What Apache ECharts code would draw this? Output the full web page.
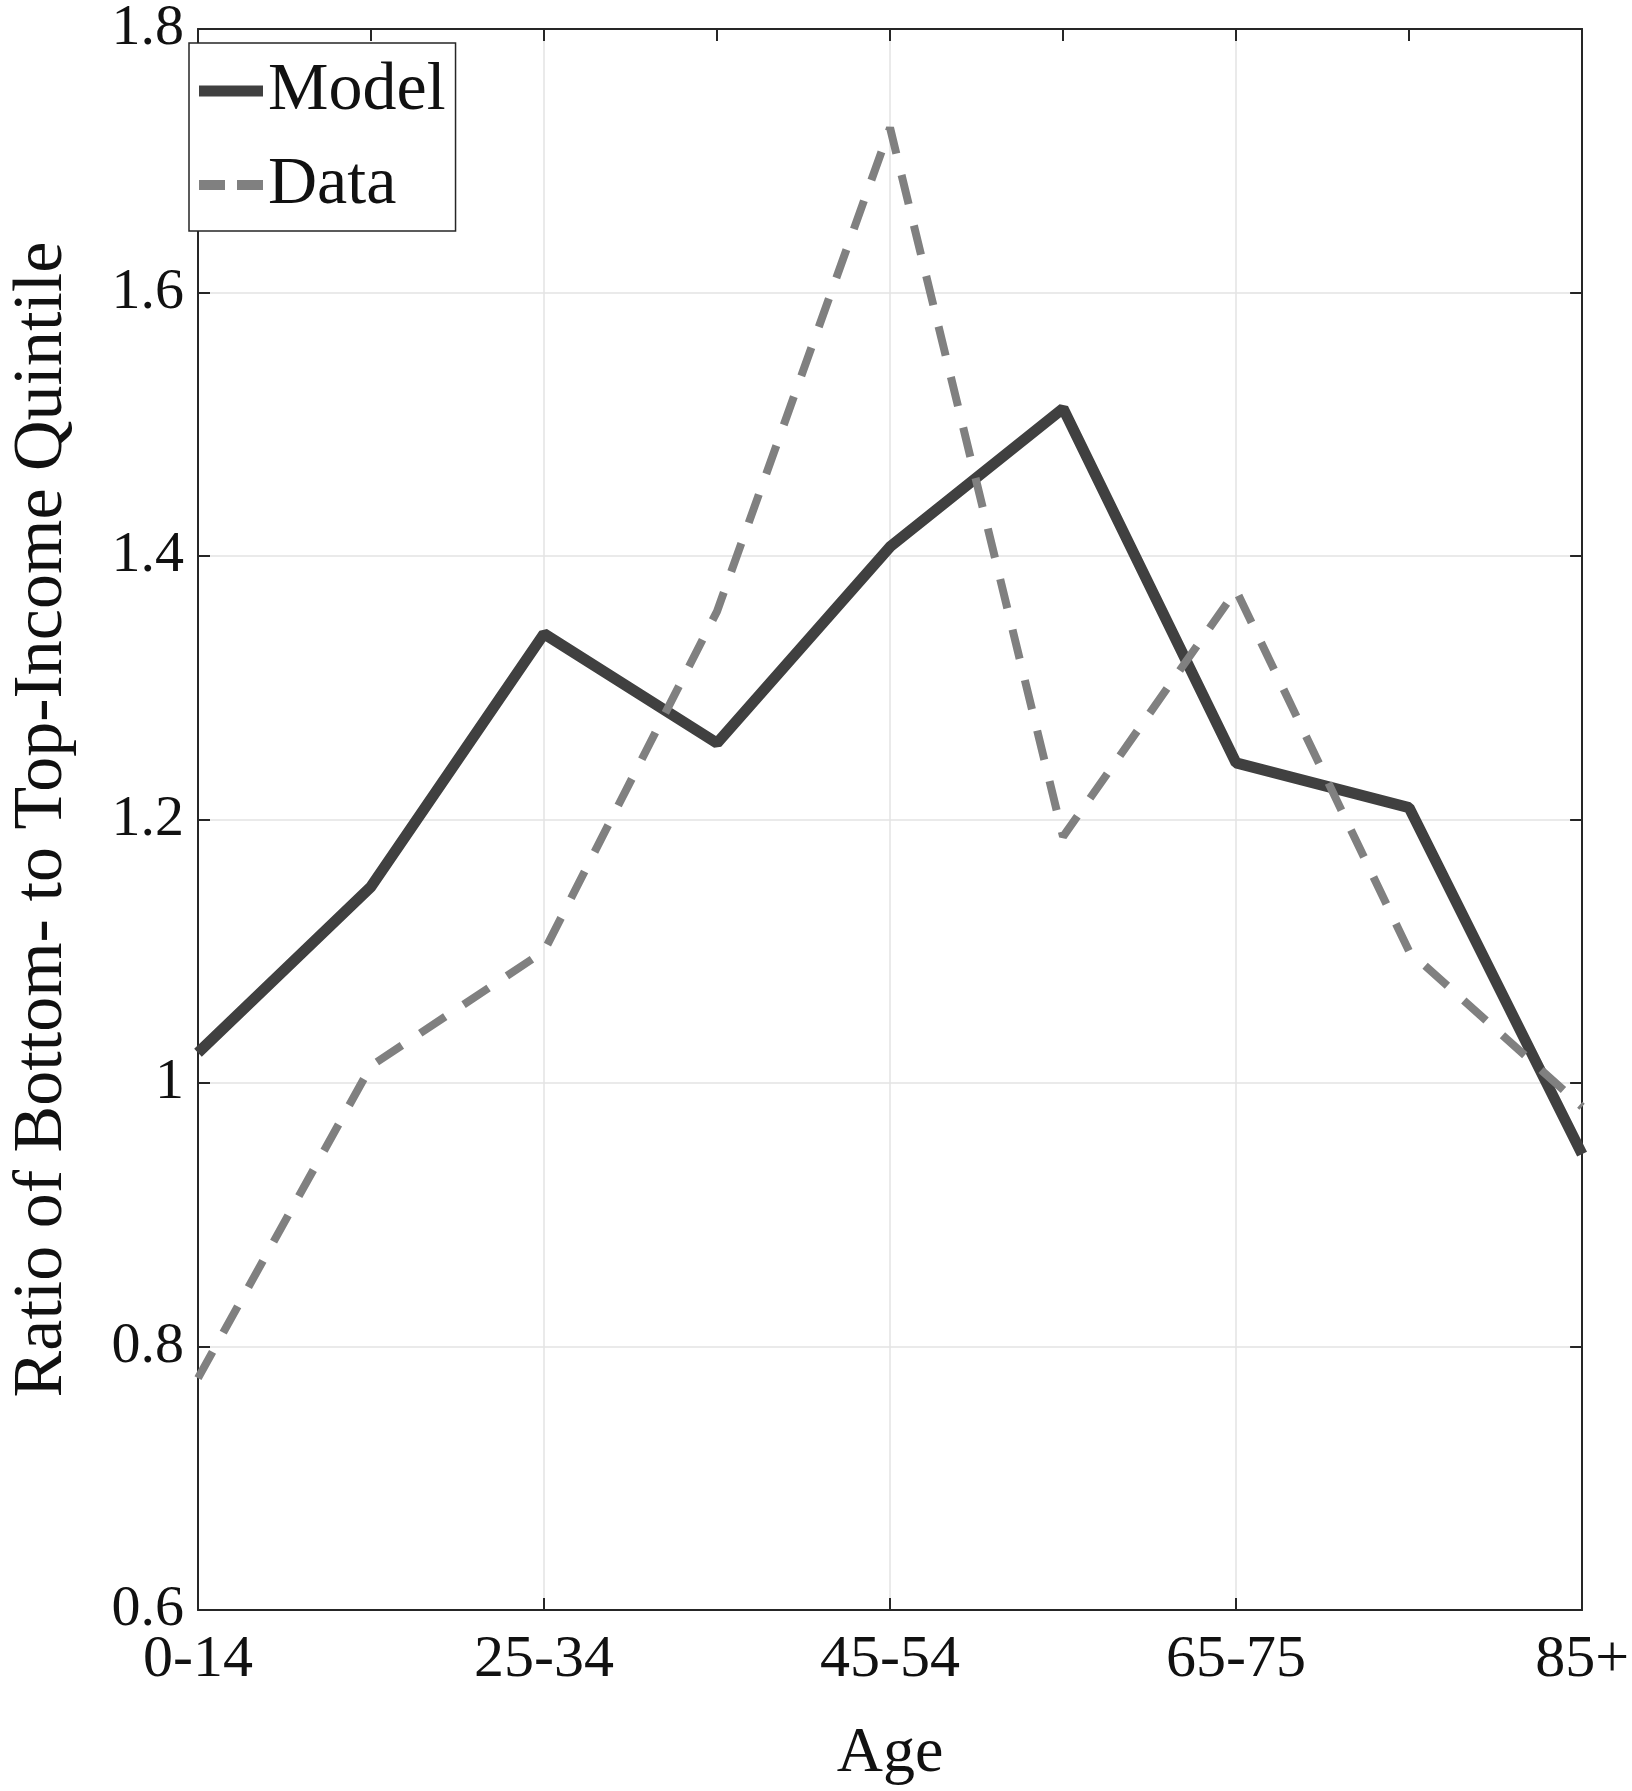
<!DOCTYPE html><html><head><meta charset="utf-8"><script src="https://cdn.jsdelivr.net/npm/echarts@6/dist/echarts.min.js"></script></head><body style="margin:0;background:#fff"><div id="c" style="width:1632px;height:1791px"></div><script>
const categories=['0-14','15-24','25-34','35-44','45-54','55-64','65-75','75-84','85+'];
const modelValues=[1.023,1.149,1.341,1.258,1.407,1.512,1.243,1.209,0.946];
const dataValues=[0.776,1.013,1.10,1.358,1.725,1.187,1.374,1.10,0.982];
const yTicks=[0.6,0.8,1,1.2,1.4,1.6,1.8];
const F='Liberation Serif';
const c=echarts.init(document.getElementById('c'));
const axLine={show:true,lineStyle:{color:'#262626',width:2}};
const tick={show:true,inside:true,length:12,lineStyle:{color:'#262626',width:2}};
c.setOption({
animation:false,
grid:{left:173,right:49,top:27,bottom:161,show:false},
legend:{show:true,left:189,top:43,orient:'vertical',itemWidth:64,itemHeight:11,itemGap:26,padding:[14,10,12,10],borderColor:'#262626',borderWidth:1.5,textStyle:{fontFamily:F,fontSize:68,color:'#111'},backgroundColor:'#fff',
data:[{name:'Model',icon:'rect',itemStyle:{color:'#404040'}},{name:'Data',icon:'path://M0,0h26v10h-26zM38,0h26v10h-26z',itemStyle:{color:'#808080'}}]},
xAxis:[{type:'category',boundaryGap:false,data:categories,name:'Age',nameLocation:'middle',nameGap:112,nameTextStyle:{fontFamily:F,fontSize:64,color:'#111'},axisLine:axLine,axisTick:tick,axisLabel:{fontFamily:F,fontSize:60,color:'#111',margin:20},splitLine:{show:true,lineStyle:{color:'#e3e3e3',width:1.5}}},
{type:'category',position:'top',boundaryGap:false,data:categories,axisLine:axLine,axisTick:tick,axisLabel:{show:false}}],
yAxis:[{type:'value',min:0.6,max:1.8,interval:0.2,name:'Ratio of Bottom- to Top-Income Quintile',nameLocation:'middle',nameGap:120,nameTextStyle:{fontFamily:F,fontSize:70,color:'#111'},axisLine:axLine,axisTick:tick,axisLabel:{fontFamily:F,fontSize:58,color:'#111',margin:14,formatter:v=>String(Math.round(v*10)/10)},splitLine:{show:true,lineStyle:{color:'#e3e3e3',width:1.5}}},
{type:'value',position:'right',min:0.6,max:1.8,interval:0.2,axisLine:axLine,axisTick:tick,axisLabel:{show:false},splitLine:{show:false}}],
series:[
{name:'Model',type:'line',data:modelValues,symbol:'none',lineStyle:{color:'#404040',width:11},itemStyle:{color:'#404040'}},
{name:'Data',type:'line',data:dataValues,symbol:'none',lineStyle:{color:'#808080',width:8,type:[30,22]},itemStyle:{color:'#808080'}}
]});
</script></body></html>
